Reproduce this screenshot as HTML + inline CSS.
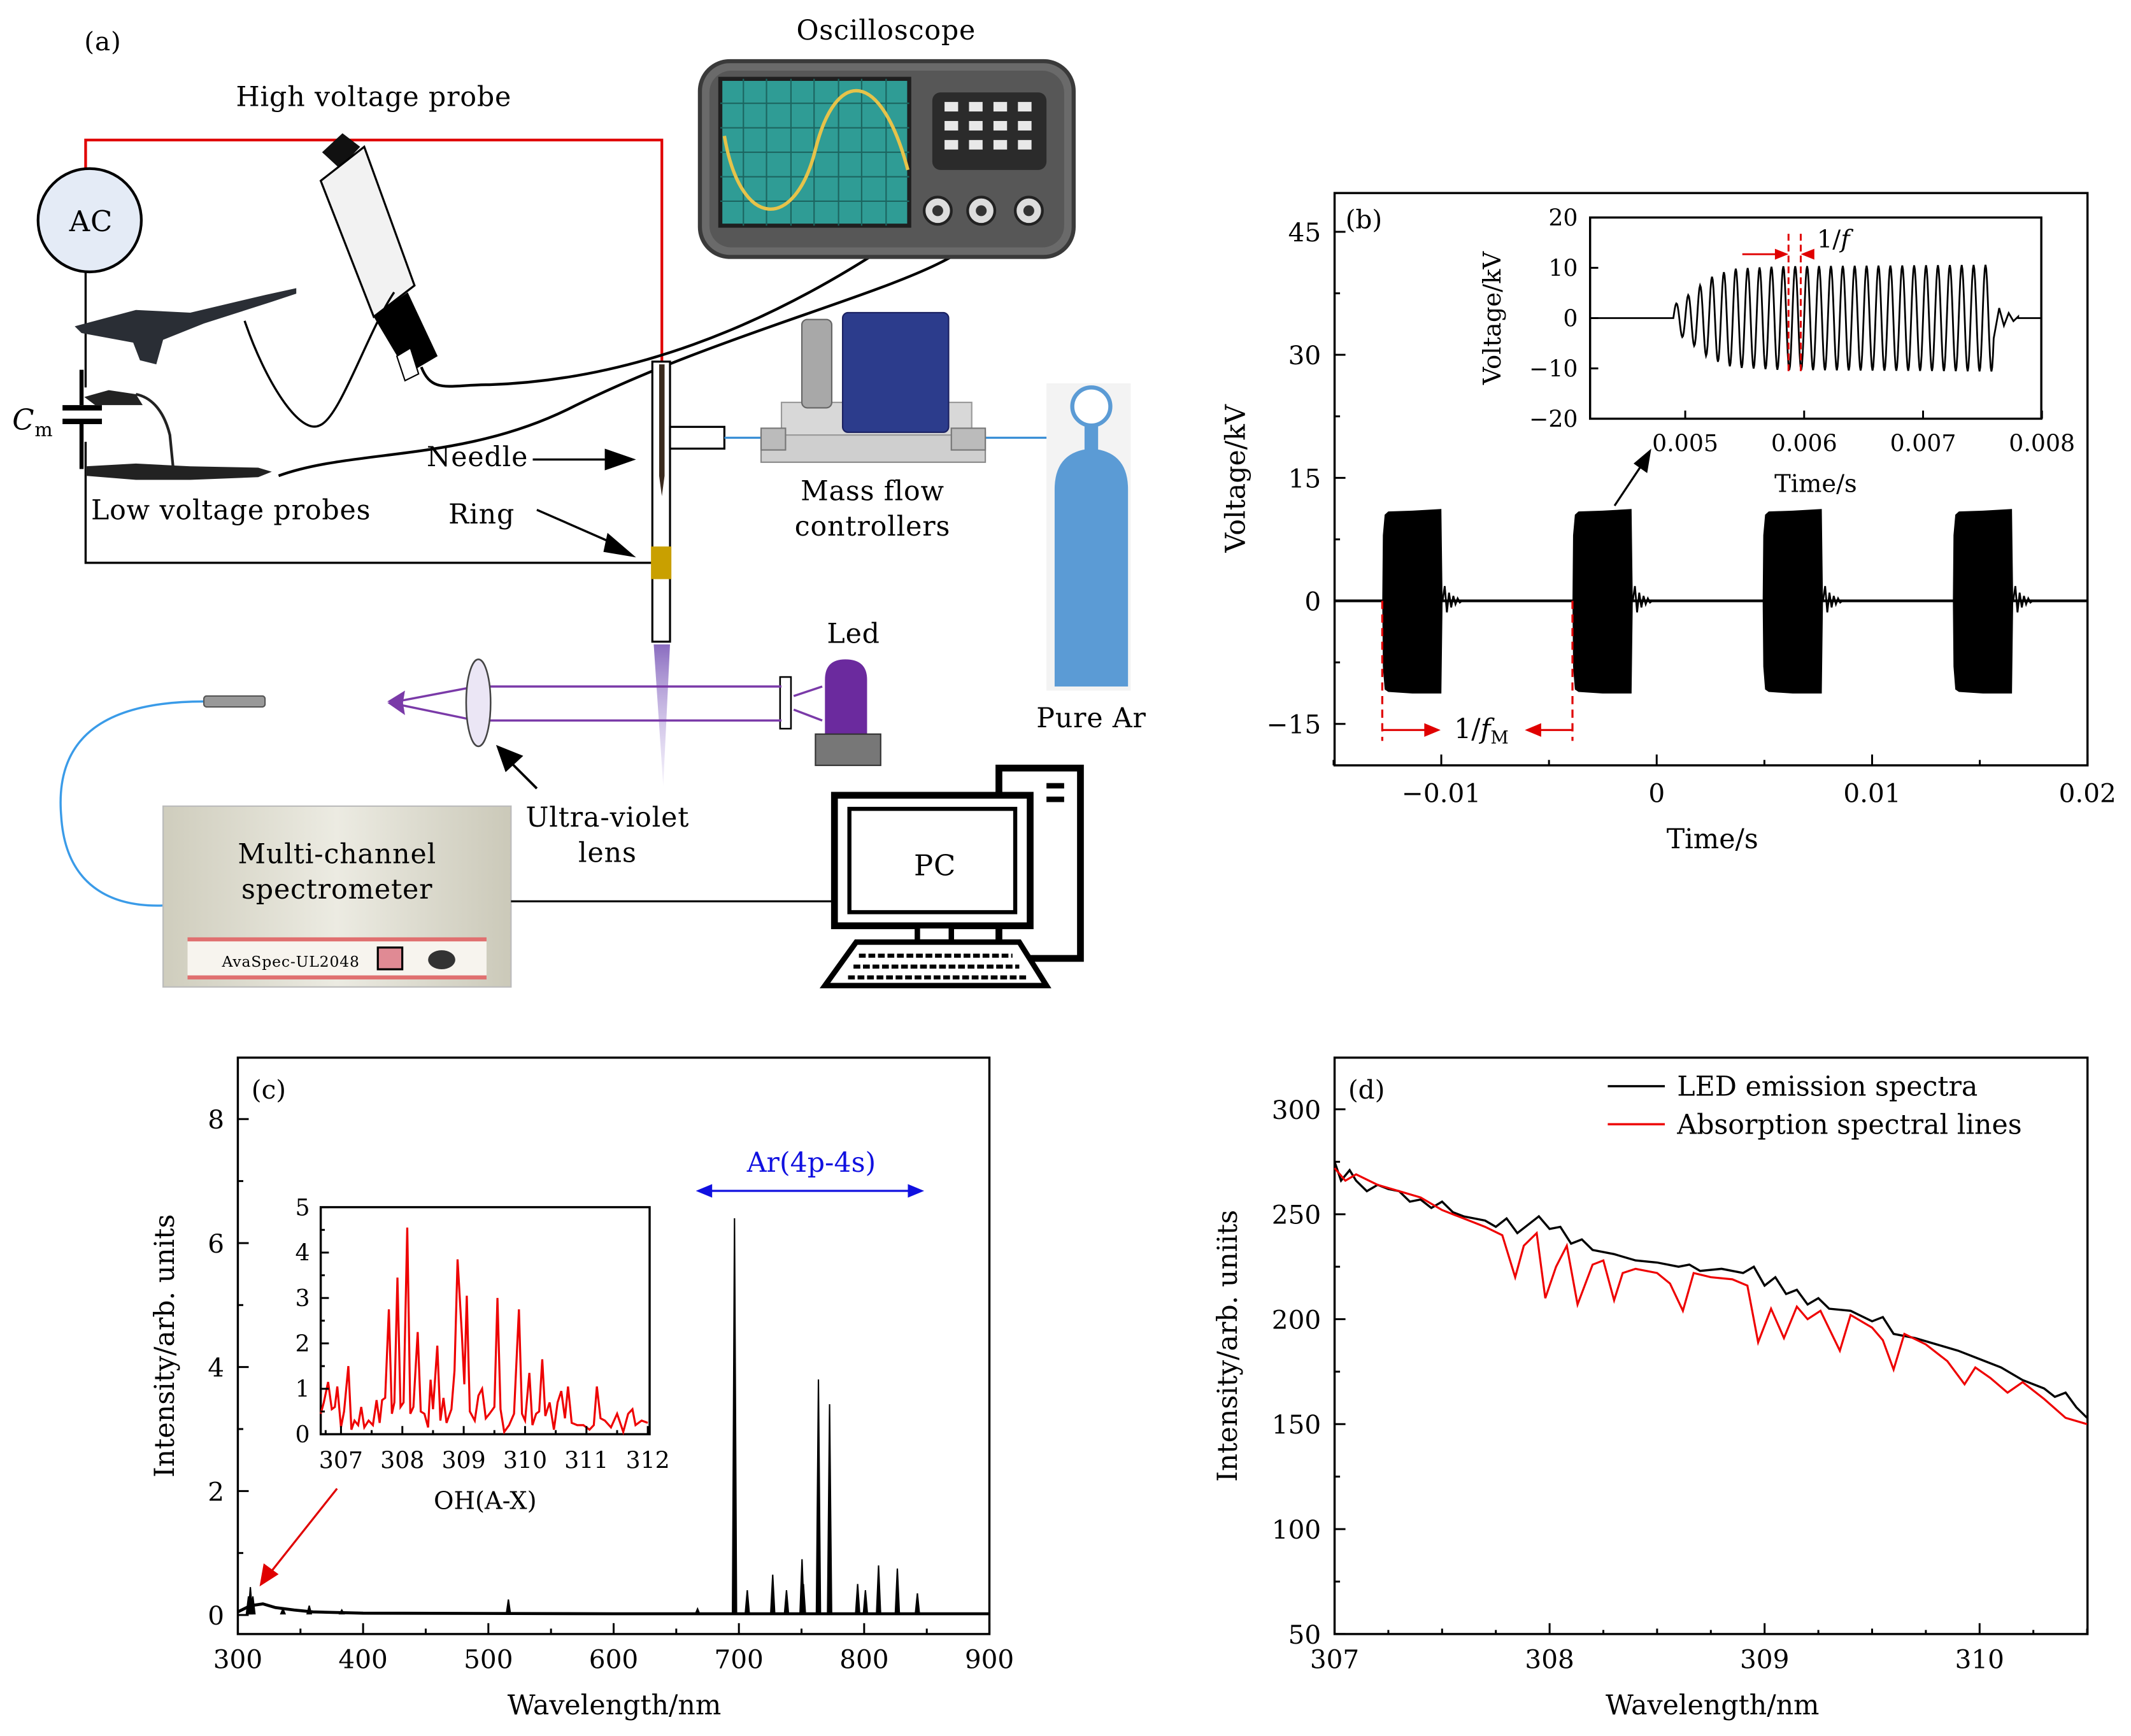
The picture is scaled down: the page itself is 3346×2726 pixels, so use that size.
<!DOCTYPE html>
<html><head><meta charset="utf-8"><style>
html,body{margin:0;padding:0;background:#fff;}
svg{display:block;font-family:"DejaVu Serif","Liberation Serif",serif;}
#panel-a text{letter-spacing:0.4px;}
</style></head><body>
<svg id="fig" xmlns="http://www.w3.org/2000/svg" width="3346" height="2726" viewBox="0 0 1568 1277" preserveAspectRatio="none">
<rect x="0" y="0" width="1568" height="1277" fill="#fff"/>
<g id="panel-a">
  <text x="62" y="37" font-size="19">(a)</text>
  <text x="652" y="29" font-size="20" text-anchor="middle">Oscilloscope</text>
  <text x="275" y="78" font-size="20" text-anchor="middle">High voltage probe</text>
  <polyline points="63,124 63,103 487,103 487,268" fill="none" stroke="#e00000" stroke-width="2"/>
  <polyline points="63,200 63,414 480,414" fill="none" stroke="#000" stroke-width="1.6"/>
  <circle cx="66" cy="162" r="38" fill="#e4ebf6" stroke="#000" stroke-width="2"/>
  <text x="67" y="170" font-size="21" text-anchor="middle">AC</text>
  <rect x="50" y="285" width="28" height="40" fill="#fff"/>
  <line x1="60" y1="272" x2="60" y2="298" stroke="#000" stroke-width="3"/>
  <line x1="60" y1="312" x2="60" y2="345" stroke="#000" stroke-width="3"/>
  <line x1="46" y1="300" x2="75" y2="300" stroke="#000" stroke-width="4"/>
  <line x1="46" y1="310" x2="75" y2="310" stroke="#000" stroke-width="4"/>
  <text x="9" y="316" font-size="21" font-style="italic">C<tspan font-size="14" font-style="normal" dy="5">m</tspan></text>
  <g>
    <polygon points="237,112 252,98 265,108 250,124" fill="#111"/>
    <polygon points="236,133 268,108 305,210 275,233" fill="#f2f2f2" stroke="#000" stroke-width="1.5"/>
    <polygon points="275,233 300,215 322,262 300,275" fill="#000"/>
    <polygon points="292,262 302,256 308,275 298,280" fill="#fff" stroke="#000" stroke-width="1"/>
  </g>
  <path d="M310,270 C318,290 330,283 360,283 C450,280 560,250 690,155" fill="none" stroke="#000" stroke-width="2"/>
  <path d="M180,236 C195,280 220,320 235,313 C250,308 270,245 290,215" fill="none" stroke="#000" stroke-width="1.6"/>
  <polygon points="55,240 100,228 140,230 195,217 218,212 218,216 200,222 150,238 120,250 115,268 103,265 98,252 60,245" fill="#2a2e35"/>
  <path d="M722,160 C735,200 560,230 420,300 C340,340 260,330 205,350" fill="none" stroke="#000" stroke-width="2"/>
  <polygon points="62,292 80,287 100,290 105,298 70,298" fill="#222"/>
  <path d="M100,290 C110,292 120,300 125,320 L128,350" fill="none" stroke="#222" stroke-width="2"/>
  <polygon points="63,343 100,341 140,343 190,344 200,347 190,351 140,353 100,353 63,350" fill="#222"/>
  <text x="67" y="382" font-size="20">Low voltage probes</text>
  <g>
    <rect x="515" y="45" width="275" height="144" rx="22" fill="#6a6a6a" stroke="#3a3a3a" stroke-width="3"/>
    <rect x="522" y="52" width="261" height="130" rx="16" fill="#575757"/>
    <rect x="530" y="58" width="139" height="108" fill="#2f9c95" stroke="#1f1f1f" stroke-width="3"/>
    <path d="M547,58V166M564,58V166M582,58V166M599,58V166M617,58V166M634,58V166M652,58V166M530,76H669M530,94H669M530,112H669M530,130H669M530,148H669" stroke="#1c6560" stroke-width="1"/>
    <path d="M533,100 C545,170 585,170 600,110 C615,50 648,50 668,125" fill="none" stroke="#e6c34a" stroke-width="2.5"/>
    <rect x="686" y="68" width="84" height="57" rx="6" fill="#2b2b2b"/>
    <g fill="#e8e8e8">
      <rect x="695" y="75" width="10" height="7"/><rect x="713" y="75" width="10" height="7"/><rect x="731" y="75" width="10" height="7"/><rect x="749" y="75" width="10" height="7"/>
      <rect x="695" y="89" width="10" height="7"/><rect x="713" y="89" width="10" height="7"/><rect x="731" y="89" width="10" height="7"/><rect x="749" y="89" width="10" height="7"/>
      <rect x="695" y="103" width="10" height="7"/><rect x="713" y="103" width="10" height="7"/><rect x="731" y="103" width="10" height="7"/><rect x="749" y="103" width="10" height="7"/>
    </g>
    <circle cx="690" cy="155" r="10" fill="#ddd" stroke="#222" stroke-width="2"/><circle cx="690" cy="155" r="4" fill="#333"/>
    <circle cx="722" cy="155" r="10" fill="#ddd" stroke="#222" stroke-width="2"/><circle cx="722" cy="155" r="4" fill="#333"/>
    <circle cx="757" cy="155" r="10" fill="#ddd" stroke="#222" stroke-width="2"/><circle cx="757" cy="155" r="4" fill="#333"/>
  </g>
  <rect x="480" y="266" width="13" height="206" fill="#fff" stroke="#000" stroke-width="1.5"/>
  <polygon points="485,268 489,268 489,350 487,365 485,350" fill="#3a2a1e"/>
  <rect x="479" y="402" width="15" height="24" fill="#c9a000"/>
  <rect x="493" y="314" width="40" height="16" fill="#fff" stroke="#000" stroke-width="1.5"/>
  <line x1="533" y1="322" x2="795" y2="322" stroke="#3a8fd6" stroke-width="1.5"/>
  <defs><linearGradient id="jet" x1="0" y1="0" x2="0" y2="1"><stop offset="0" stop-color="#8a6cc0"/><stop offset="1" stop-color="#d8cdef" stop-opacity="0.3"/></linearGradient></defs>
  <polygon points="481,474 493,474 488,578" fill="url(#jet)"/>
  <text x="314" y="343" font-size="20">Needle</text>
  <line x1="392" y1="338" x2="445" y2="338" stroke="#000" stroke-width="1.6"/>
  <polygon points="445,330 468,338 445,346" fill="#000"/>
  <text x="330" y="385" font-size="20">Ring</text>
  <line x1="395" y1="375" x2="452" y2="400" stroke="#000" stroke-width="1.6"/>
  <polygon points="447,392 468,410 444,406" fill="#000"/>
  <g>
    <rect x="560" y="318" width="165" height="22" fill="#cfcfcf" stroke="#888"/>
    <rect x="575" y="296" width="140" height="24" fill="#d8d8d8" stroke="#999"/>
    <rect x="590" y="235" width="22" height="65" rx="4" fill="#a8a8a8" stroke="#666"/>
    <rect x="620" y="230" width="78" height="88" rx="4" fill="#2c3c8c" stroke="#1a2060"/>
    <rect x="700" y="315" width="25" height="16" fill="#bbb" stroke="#777"/>
    <rect x="560" y="315" width="18" height="16" fill="#bbb" stroke="#777"/>
  </g>
  <text x="642" y="368" font-size="20" text-anchor="middle">Mass flow</text>
  <text x="642" y="394" font-size="20" text-anchor="middle">controllers</text>
  <g>
    <rect x="770" y="282" width="62" height="226" fill="#f3f3f3"/>
    <rect x="798" y="310" width="10" height="24" fill="#5b9bd5"/>
    <circle cx="803" cy="299" r="14" fill="#fff" stroke="#5b9bd5" stroke-width="3"/>
    <path d="M776,360 Q776,332 803,330 Q830,332 830,360 L830,505 L776,505 Z" fill="#5b9bd5"/>
  </g>
  <text x="803" y="535" font-size="20" text-anchor="middle">Pure Ar</text>
  <text x="628" y="473" font-size="20" text-anchor="middle">Led</text>
  <path d="M607,540 L607,500 Q607,485 622,485 Q638,485 638,500 L638,540 Z" fill="#6b2a9e"/>
  <rect x="600" y="540" width="48" height="23" fill="#777" stroke="#333"/>
  <rect x="574" y="498" width="8" height="38" fill="#fff" stroke="#000" stroke-width="1.2"/>
  <g stroke="#7a3aa8" stroke-width="1.6" fill="none">
    <line x1="605" y1="505" x2="584" y2="512"/><line x1="605" y1="530" x2="584" y2="522"/>
    <line x1="575" y1="505" x2="352" y2="505"/><line x1="575" y1="530" x2="352" y2="530"/>
    <line x1="350" y1="505" x2="292" y2="516"/><line x1="350" y1="530" x2="292" y2="518"/>
  </g>
  <polygon points="285,516 298,508 296,520" fill="#7a3aa8"/>
  <polygon points="285,517 296,514 298,526" fill="#7a3aa8"/>
  <ellipse cx="352" cy="517" rx="9" ry="32" fill="#ebe6f5" stroke="#444" stroke-width="1.2"/>
  <line x1="395" y1="580" x2="375" y2="560" stroke="#000" stroke-width="1.8"/>
  <polygon points="365,548 385,556 372,568" fill="#000"/>
  <text x="447" y="608" font-size="20" text-anchor="middle">Ultra-violet</text>
  <text x="447" y="634" font-size="20" text-anchor="middle">lens</text>
  <path d="M150,516 C80,516 40,540 45,600 C48,650 80,668 122,666" fill="none" stroke="#3a9be8" stroke-width="1.6"/>
  <rect x="150" y="512" width="45" height="8" rx="2" fill="#999" stroke="#555"/>
  <defs><linearGradient id="spec" x1="0" y1="0" x2="1" y2="0"><stop offset="0" stop-color="#cfcdbd"/><stop offset="0.5" stop-color="#ecebe2"/><stop offset="1" stop-color="#cbc9b9"/></linearGradient></defs>
  <rect x="120" y="593" width="256" height="133" fill="url(#spec)" stroke="#bbb"/>
  <text x="248" y="635" font-size="20" text-anchor="middle">Multi-channel</text>
  <text x="248" y="661" font-size="20" text-anchor="middle">spectrometer</text>
  <rect x="138" y="690" width="220" height="30" fill="#f7f4ee"/>
  <line x1="138" y1="691" x2="358" y2="691" stroke="#e07070" stroke-width="3"/>
  <line x1="138" y1="719" x2="358" y2="719" stroke="#e07070" stroke-width="3"/>
  <text x="214" y="711" font-size="11" text-anchor="middle">AvaSpec-UL2048</text>
  <rect x="278" y="697" width="18" height="16" fill="#e08a94" stroke="#000" stroke-width="1.5"/>
  <ellipse cx="325" cy="706" rx="10" ry="7" fill="#333"/>
  <line x1="376" y1="663" x2="612" y2="663" stroke="#000" stroke-width="1.5"/>
  <g fill="#fff" stroke="#000">
    <rect x="735" y="565" width="60" height="140" stroke-width="5"/>
    <line x1="770" y1="578" x2="783" y2="578" stroke-width="4"/><line x1="770" y1="588" x2="783" y2="588" stroke-width="4"/>
    <rect x="614" y="585" width="144" height="96" stroke-width="5"/>
    <rect x="625" y="595" width="122" height="76" stroke-width="3"/>
    <rect x="675" y="681" width="25" height="12" stroke-width="4"/>
    <polygon points="630,693 750,693 770,725 607,725" stroke-width="4"/>
    <path d="M632,703H745M628,711H750M624,719H755" stroke-width="3" stroke-dasharray="5,2"/>
  </g>
  <text x="688" y="644" font-size="21" text-anchor="middle">PC</text>
</g>
<g id="charts"></g>
</svg>
<script>
const NS='http://www.w3.org/2000/svg';
const root=document.getElementById('charts');
function mk(tag,attrs,parent){const e=document.createElementNS(NS,tag);for(const k in attrs)e.setAttribute(k,attrs[k]);(parent||root).appendChild(e);return e;}
function txt(s,x,y,size,anchor,parent){const t=mk('text',{x:x,y:y,'font-size':size,'text-anchor':anchor||'middle'},parent);t.textContent=s;return t;}

const bBurstStarts=[-0.01274,-0.00391,0.00492,0.01375];
const bBurstDuration=0.0028;
const bEnvRel=[0,0.01,0.04,0.1,0.5,0.98,1];
const bEnvTop=[0,8,10.5,10.9,11.0,11.2,0];
const bEnvBot=[0,-8,-10.8,-11.1,-11.3,-11.3,0];
const bRing=[1.8,-1.4,1.0,-0.8,0.6,-0.4,0.3,-0.2];
const bXTicks=[-0.01,0,0.01,0.02];
const bXLabels=['\u22120.01','0','0.01','0.02'];
const bYTicks=[45,30,15,0,-15];
const bYLabels=['45','30','15','0','\u221215'];
const biEnvT=[0.0049,0.00505,0.0052,0.0054,0.0058,0.0070,0.0076];
const biEnvA=[2.5,5,8,9.8,10.3,10.5,10.6];
const biPeriod=0.0001;
const biRing=[2,-1.5,1,-0.6,0.3];
const biXTicks=[0.005,0.006,0.007,0.008];
const biXLabels=['0.005','0.006','0.007','0.008'];
const biYTicks=[20,10,0,-10,-20];
const biYLabels=['20','10','0','\u221210','\u221220'];

const cPeakWl=[308.5,310,312,336,357,383,516,667,696.5,706.7,727,738,750.4,751.5,763.5,772.4,794.8,801,811.5,826.5,842.5];
const cPeakVal=[0.3,0.45,0.3,0.1,0.15,0.08,0.25,0.1,6.4,0.4,0.65,0.4,0.9,0.5,3.8,3.4,0.5,0.4,0.8,0.75,0.35];
const cBaseWl=[300,305,310,320,330,345,360,400,600,900];
const cBaseVal=[0.05,0.1,0.15,0.18,0.12,0.08,0.05,0.03,0.02,0.02];
const cXTicks=[300,400,500,600,700,800,900];
const cYTicks=[0,2,4,6,8];
const ohWl=[306.67,306.72,306.79,306.85,306.9,306.94,307.0,307.05,307.12,307.17,307.22,307.28,307.33,307.38,307.45,307.52,307.58,307.63,307.67,307.72,307.78,307.83,307.87,307.92,307.97,308.02,308.08,308.13,308.18,308.25,308.3,308.36,308.42,308.46,308.5,308.57,308.62,308.67,308.72,308.8,308.85,308.9,308.97,309.01,309.05,309.1,309.18,309.24,309.3,309.36,309.42,309.5,309.55,309.6,309.66,309.74,309.82,309.9,309.95,310.0,310.07,310.12,310.18,310.23,310.28,310.33,310.4,310.47,310.53,310.59,310.65,310.7,310.76,310.85,310.95,311.05,311.12,311.17,311.23,311.3,311.4,311.5,311.6,311.68,311.75,311.8,311.9,312.0];
const ohVal=[0.45,0.7,1.15,0.55,0.6,1.05,0.15,0.5,1.5,0.1,0.3,0.2,0.6,0.15,0.3,0.2,0.75,0.25,0.75,0.8,2.75,0.45,0.7,3.45,0.6,0.7,4.55,0.45,0.6,2.25,0.5,0.45,0.15,1.2,0.55,1.95,0.3,0.8,0.25,0.55,1.4,3.85,2.2,1.1,3.05,0.5,0.3,0.85,1.0,0.35,0.45,0.6,3.0,0.55,0.05,0.2,0.45,2.75,0.45,0.3,1.35,0.2,0.45,0.5,1.65,0.4,0.7,0.1,0.7,0.95,0.35,1.05,0.25,0.2,0.2,0.1,0.2,1.05,0.35,0.3,0.15,0.45,0.05,0.45,0.55,0.2,0.3,0.25];
const ohXTicks=[307,308,309,310,311,312];
const ohYTicks=[0,1,2,3,4,5];

const dLedWl=[307.0,307.03,307.07,307.1,307.15,307.2,307.25,307.3,307.35,307.4,307.45,307.5,307.55,307.6,307.7,307.75,307.8,307.85,307.9,307.95,308.0,308.05,308.1,308.15,308.2,308.3,308.4,308.5,308.6,308.65,308.7,308.8,308.9,308.95,309.0,309.05,309.1,309.15,309.2,309.25,309.3,309.4,309.5,309.55,309.6,309.7,309.8,309.9,310.0,310.1,310.2,310.3,310.35,310.4,310.45,310.5];
const dLedVal=[275,266,271,266,261,264,262,261,256,257,253,256,251,249,247,244,248,241,245,249,243,244,236,238,233,231,228,227,225,226,223,224,222,225,216,220,212,214,207,210,205,204,199,201,193,191,188,185,181,177,171,167,163,165,158,153];
const dAbsWl=[307.0,307.05,307.1,307.2,307.3,307.4,307.5,307.6,307.7,307.78,307.84,307.88,307.94,307.98,308.03,308.08,308.13,308.2,308.25,308.3,308.34,308.4,308.5,308.56,308.62,308.67,308.75,308.85,308.92,308.97,309.03,309.09,309.15,309.2,309.26,309.35,309.4,309.5,309.55,309.6,309.65,309.75,309.85,309.93,309.98,310.05,310.13,310.2,310.3,310.4,310.5];
const dAbsVal=[272,266,269,264,261,258,252,248,244,240,220,235,241,210,225,235,207,226,228,209,222,224,222,217,204,222,220,219,216,189,205,191,206,200,204,185,202,196,190,176,193,188,180,169,177,172,165,170,162,153,150];
const dXTicks=[307,308,309,310];
const dYTicks=[50,100,150,200,250,300];

function interp(xs,ys,x){if(x<=xs[0])return ys[0];for(let i=1;i<xs.length;i++){if(x<=xs[i]){const f=(x-xs[i-1])/(xs[i]-xs[i-1]);return ys[i-1]+f*(ys[i]-ys[i-1]);}}return ys[ys.length-1];}

function frame(g,x0,y0,x1,y1,name){const r=mk('rect',{x:x0,y:y0,width:x1-x0,height:y1-y0,fill:'#fff',stroke:'#000','stroke-width':1.6},g);


return r;}
function tickLine(g,x1,y1,x2,y2,w){const l=mk('line',{x1:x1,y1:y1,x2:x2,y2:y2,stroke:'#000','stroke-width':w||1.4},g);


return l;}
function label(g,s,x,y,size,anchor,name){const t=txt(s,x,y,size,anchor,g);


return t;}
function vlabel(g,s,x,y,size,name){const t=txt(s,0,0,size,'middle',g);t.setAttribute('transform','translate('+x+','+y+') rotate(-90)');


return t;}

(function(){
const g=mk('g',{});


const X0=982,X1=1536,Y0=142,Y1=563;
const bx=t=>1219+t*15850, by=v=>442-v*6.033;
frame(g,X0,Y0,X1,Y1,'panel-b-plot-area');
label(g,'(b)',990,168,19,'start','panel-b-label');
const base=mk('line',{x1:X0,y1:by(0),x2:X1,y2:by(0),stroke:'#000','stroke-width':2},g);


bBurstStarts.forEach((s,i)=>{
  let top=[],bot=[];
  bEnvRel.forEach((r,k)=>{top.push(bx(s+r*bBurstDuration)+','+by(bEnvTop[k]));});
  for(let k=bEnvRel.length-1;k>=0;k--){bot.push(bx(s+bEnvRel[k]*bBurstDuration)+','+by(bEnvBot[k]));}
  const p=mk('polygon',{points:top.concat(bot).join(' '),fill:'#000'},g);
  
  
  let pts=[bx(s+bBurstDuration)+','+by(0)];
  bRing.forEach((a,k)=>{pts.push(bx(s+bBurstDuration+0.0001*(k+1))+','+by(a));});
  pts.push(bx(s+bBurstDuration+0.0001*(bRing.length+1))+','+by(0));
  const rl=mk('polyline',{points:pts.join(' '),fill:'none',stroke:'#000','stroke-width':1.3},g);
  
  
});
bXTicks.forEach((t,i)=>{tickLine(g,bx(t),Y1,bx(t),Y1-8);label(g,bXLabels[i],bx(t),590,19,'middle','x-tick-label');});
[-0.015,-0.005,0.005,0.015].forEach(t=>tickLine(g,bx(t),Y1,bx(t),Y1-4));
bYTicks.forEach((v,i)=>{tickLine(g,X0,by(v),X0+8,by(v));label(g,bYLabels[i],972,by(v)+7,19,'end','y-tick-label');});
[37.5,22.5,7.5,-7.5].forEach(v=>tickLine(g,X0,by(v),X0+4,by(v)));
vlabel(g,'Voltage/kV',916,352,20,'y-axis-title');
label(g,'Time/s',1260,624,20,'middle','x-axis-title');
const bs0=bx(bBurstStarts[0]),bs1=bx(bBurstStarts[1]);
[bs0,bs1].forEach(x=>{const d=mk('line',{x1:x,y1:by(0),x2:x,y2:545,stroke:'#e00000','stroke-width':1.5,'stroke-dasharray':'6,4'},g);

});
mk('line',{x1:bs0,y1:537,x2:1057,y2:537,stroke:'#e00000','stroke-width':1.5},g);
mk('polygon',{points:'1048,532 1060,537 1048,542',fill:'#e00000'},g);
mk('line',{x1:1125,y1:537,x2:bs1,y2:537,stroke:'#e00000','stroke-width':1.5},g);
mk('polygon',{points:'1134,532 1122,537 1134,542',fill:'#e00000'},g);
const fm=txt('',1090,543,20,'middle',g);


fm.innerHTML='1/<tspan font-style="italic">f</tspan><tspan font-size="13" dy="4">M</tspan>';
mk('line',{x1:1188,y1:372,x2:1208,y2:342,stroke:'#000','stroke-width':1.5},g);
const za=mk('polygon',{points:'1215,330 1212,348 1202,341',fill:'#000'},g);



const I0=1170,I1=1502,J0=160,J1=308;
const ix=t=>1240+(t-0.005)*87500, iy=v=>234-v*3.7;
frame(g,I0,J0,I1,J1,'panel-b-inset-plot-area');
let pts=[];
for(let t=0.0042;t<0.0049;t+=0.00005)pts.push(ix(t)+','+iy(0));
for(let t=0.0049;t<=0.0076;t+=biPeriod/16){const a=interp(biEnvT,biEnvA,t);pts.push(ix(t).toFixed(2)+','+iy(a*Math.sin(2*Math.PI*(t-0.0049)/biPeriod)).toFixed(2));}
biRing.forEach((a,k)=>pts.push(ix(0.0076+0.00004*(k+1))+','+iy(a)));
for(let t=0.0078;t<=0.008;t+=0.00005)pts.push(ix(t)+','+iy(0));
const wf=mk('polyline',{points:pts.join(' '),fill:'none',stroke:'#000','stroke-width':1.3},g);


biXTicks.forEach((t,i)=>{tickLine(g,ix(t),J1,ix(t),J1-6);label(g,biXLabels[i],ix(t),332,17,'middle','inset-x-tick-label');});
biYTicks.forEach((v,i)=>{tickLine(g,I0,iy(v),I0+6,iy(v));label(g,biYLabels[i],1161,iy(v)+6,17,'end','inset-y-tick-label');});
vlabel(g,'Voltage/kV',1104,234,18,'inset-y-axis-title');
label(g,'Time/s',1336,362,18,'middle','inset-x-axis-title');
[1316,1325].forEach(x=>{const d=mk('line',{x1:x,y1:172,x2:x,y2:276,stroke:'#e00000','stroke-width':1.4,'stroke-dasharray':'5,3'},g);

});
mk('line',{x1:1282,y1:187,x2:1308,y2:187,stroke:'#e00000','stroke-width':1.4},g);
mk('polygon',{points:'1306,183 1316,187 1306,191',fill:'#e00000'},g);
mk('polygon',{points:'1335,183 1325,187 1335,191',fill:'#e00000'},g);
const ff=txt('',1349,182,18,'middle',g);


ff.innerHTML='1/<tspan font-style="italic">f</tspan>';
})();

(function(){
const g=mk('g',{});


const X0=175,X1=728,Y0=778,Y1=1202;
const cx=w=>175+(w-300)*0.9217, cy=v=>1188-v*45.6;
frame(g,X0,Y0,X1,Y1,'panel-c-plot-area');
label(g,'(c)',185,808,19,'start','panel-c-label');
const bl=mk('polyline',{points:cBaseWl.map((w,i)=>cx(w)+','+cy(cBaseVal[i])).join(' '),fill:'none',stroke:'#000','stroke-width':2.2},g);


cPeakWl.forEach((w,i)=>{const p=mk('polygon',{points:(cx(w)-1.5)+','+cy(0.02)+' '+cx(w)+','+cy(cPeakVal[i])+' '+(cx(w)+1.5)+','+cy(0.02),fill:'#000',stroke:'#000','stroke-width':1},g);

});
cXTicks.forEach(w=>{tickLine(g,cx(w),Y1,cx(w),Y1-8);label(g,String(w),cx(w),1227,19,'middle','x-tick-label');});
[350,450,550,650,750,850].forEach(w=>tickLine(g,cx(w),Y1,cx(w),Y1-4));
cYTicks.forEach(v=>{tickLine(g,X0,cy(v),X0+8,cy(v));label(g,String(v),165,cy(v)+7,19,'end','y-tick-label');});
[1,3,5,7].forEach(v=>tickLine(g,X0,cy(v),X0+4,cy(v)));
vlabel(g,'Intensity/arb. units',128,990,20,'y-axis-title');
label(g,'Wavelength/nm',452,1261,20,'middle','x-axis-title');
const at=label(g,'Ar(4p-4s)',597,862,20,'middle','ar-annotation');
at.setAttribute('fill','#1010e0');
mk('line',{x1:520,y1:876,x2:672,y2:876,stroke:'#1010e0','stroke-width':1.5},g);
mk('polygon',{points:'512,876 524,871 524,881',fill:'#1010e0'},g);
mk('polygon',{points:'680,876 668,871 668,881',fill:'#1010e0'},g);
mk('line',{x1:248,y1:1095,x2:198,y2:1158,stroke:'#e00000','stroke-width':1.5},g);
const ra=mk('polygon',{points:'191,1167 194,1150 205,1158',fill:'#e00000'},g);


const I0=236,I1=478,J0=888,J1=1055;
const ox=w=>236+(w-306.67)*45.15, oy=v=>1055-v*33.4;
frame(g,I0,J0,I1,J1,'panel-c-inset-plot-area');
const oh=mk('polyline',{points:ohWl.map((w,i)=>ox(w).toFixed(2)+','+oy(ohVal[i]).toFixed(2)).join(' '),fill:'none',stroke:'#ee0000','stroke-width':1.5},g);


ohXTicks.forEach(w=>{tickLine(g,ox(w),J1,ox(w),J1-6);label(g,String(w),ox(w),1080,17,'middle','inset-x-tick-label');});
[306.75,307.5,308.5,309.5,310.5,311.5].forEach(w=>{if(w>306.7)tickLine(g,ox(w),J1,ox(w),J1-3);});
ohYTicks.forEach(v=>{tickLine(g,I0,oy(v),I0+6,oy(v));label(g,String(v),228,oy(v)+6,17,'end','inset-y-tick-label');});
[0.5,1.5,2.5,3.5,4.5].forEach(v=>tickLine(g,I0,oy(v),I0+3,oy(v)));
label(g,'OH(A-X)',357,1110,18,'middle','inset-x-axis-title');
})();

(function(){
const g=mk('g',{});


const X0=982,X1=1536,Y0=778,Y1=1202;
const dx=w=>982+(w-307)*158.2, dy=v=>1202-(v-50)*1.544;
frame(g,X0,Y0,X1,Y1,'panel-d-plot-area');
label(g,'(d)',992,808,19,'start','panel-d-label');
const led=mk('polyline',{points:dLedWl.map((w,i)=>dx(w).toFixed(2)+','+dy(dLedVal[i]).toFixed(2)).join(' '),fill:'none',stroke:'#000','stroke-width':1.6},g);


const ab=mk('polyline',{points:dAbsWl.map((w,i)=>dx(w).toFixed(2)+','+dy(dAbsVal[i]).toFixed(2)).join(' '),fill:'none',stroke:'#ee0000','stroke-width':1.5},g);


dXTicks.forEach(w=>{tickLine(g,dx(w),Y1,dx(w),Y1-8);label(g,String(w),dx(w),1227,19,'middle','x-tick-label');});
[307.5,308.5,309.5,310.5].forEach(w=>tickLine(g,dx(w),Y1,dx(w),Y1-4));
[307.25,307.75,308.25,308.75,309.25,309.75,310.25].forEach(w=>tickLine(g,dx(w),Y1,dx(w),Y1-3));
dYTicks.forEach(v=>{tickLine(g,X0,dy(v),X0+8,dy(v));label(g,String(v),972,dy(v)+7,19,'end','y-tick-label');});
[75,125,175,225,275].forEach(v=>tickLine(g,X0,dy(v),X0+4,dy(v)));
vlabel(g,'Intensity/arb. uniits',910,990,20,'y-axis-title');
label(g,'Wavelength/nm',1260,1261,20,'middle','x-axis-title');
const l1=mk('line',{x1:1183,y1:799,x2:1225,y2:799,stroke:'#000','stroke-width':1.6},g);


label(g,'LED emission spectra',1234,806,20,'start','legend-entry-led');
const l2=mk('line',{x1:1183,y1:827,x2:1225,y2:827,stroke:'#ee0000','stroke-width':1.6},g);


label(g,'Absorption spectral lines',1234,834,20,'start','legend-entry-absorption');
})();
</script>
</body></html>
